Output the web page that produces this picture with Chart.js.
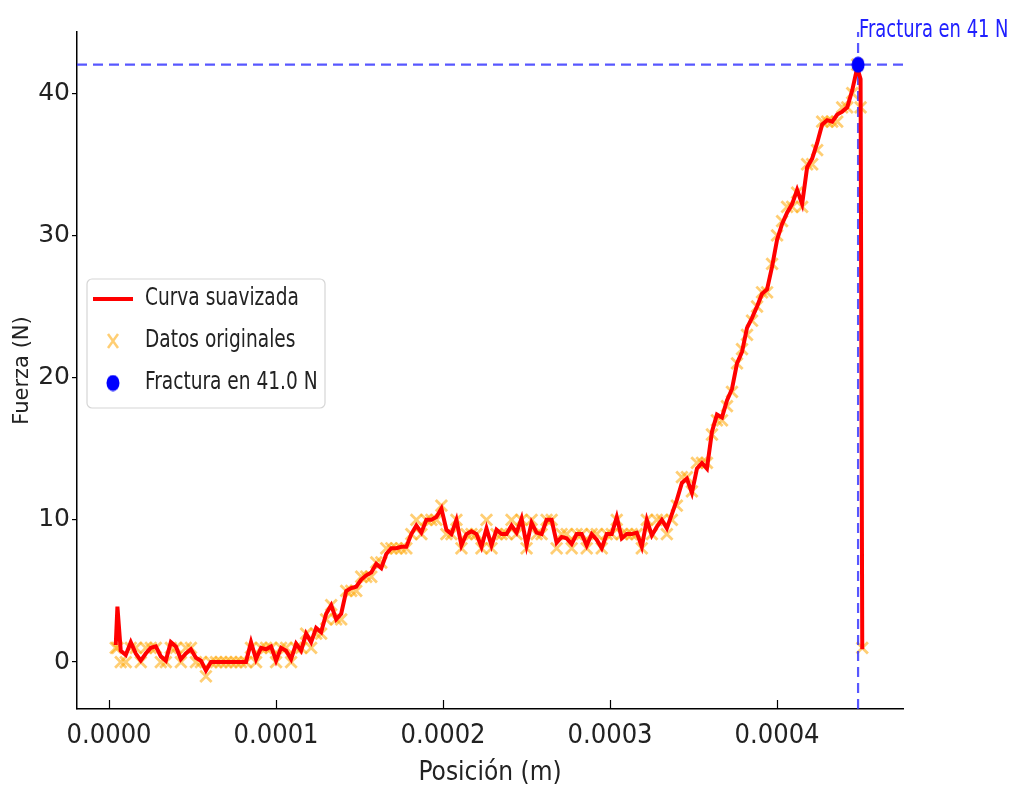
<!DOCTYPE html>
<html lang="es">
<head>
<meta charset="utf-8">
<script src="https://cdn.jsdelivr.net/npm/chart.js@4.4.1/dist/chart.umd.min.js"></script>
<style>
  html, body { margin: 0; padding: 0; background: #fff; overflow: hidden; }
  #grafico { display: block; }
</style>
</head>
<body>
<canvas id="grafico" width="1011" height="789"></canvas>
<script>
// posiciones de medición (en micrómetros)
const posicionUm = [
  4, 5, 7, 10, 13, 16, 19, 22, 25, 28,
  31, 34, 37, 40, 43, 46, 49, 52, 55, 58,
  61, 64, 67, 70, 73, 76, 79, 82, 85, 88,
  91, 94, 97, 100, 103, 106, 109, 112, 115, 118,
  121, 124, 127, 130, 133, 136, 139, 142, 145, 148,
  151, 154, 157, 160, 163, 166, 169, 172, 175, 178,
  181, 184, 187, 190, 193, 196, 199, 202, 205, 208,
  211, 214, 217, 220, 223, 226, 229, 232, 235, 238,
  241, 244, 247, 250, 253, 256, 259, 262, 265, 268,
  271, 274, 277, 280, 283, 286, 289, 292, 295, 298,
  301, 304, 307, 310, 313, 316, 319, 322, 325, 328,
  331, 334, 337, 340, 343, 346, 349, 352, 355, 358,
  361, 364, 367, 370, 373, 376, 379, 382, 385, 388,
  391, 394, 397, 400, 403, 406, 409, 412, 415, 418,
  421, 424, 427, 430, 433, 436, 439, 442, 445, 448,
  450, 451
];

// curva suavizada (N)
const fuerzaSuavizada = [
  1.2, 3.9, 0.8, 0.5, 1.4, 0.6, 0.1, 0.6, 1.0, 1.1,
  0.4, 0.1, 1.4, 1.1, 0.2, 0.6, 0.9, 0.3, 0.1, -0.6,
  0.0, 0.0, 0.0, 0.0, 0.0, 0.0, 0.0, 0.0, 1.4, 0.2,
  1.0, 0.9, 1.1, 0.1, 1.0, 0.8, 0.2, 1.3, 0.8, 2.0,
  1.4, 2.4, 2.1, 3.4, 4.0, 3.0, 3.4, 5.0, 5.2, 5.3,
  5.8, 6.1, 6.3, 6.9, 6.6, 7.6, 8.0, 8.0, 8.1, 8.1,
  9.0, 9.6, 9.1, 10.0, 10.0, 10.2, 10.8, 9.3, 9.0, 10.0,
  8.2, 9.0, 9.2, 9.0, 8.1, 9.4, 8.2, 9.3, 9.0, 9.0,
  9.6, 9.1, 10.1, 8.2, 9.8, 9.1, 9.0, 10.0, 10.0, 8.4,
  8.8, 8.7, 8.3, 9.0, 9.0, 8.2, 9.0, 8.6, 8.0, 9.0,
  9.0, 10.2, 8.7, 9.0, 9.0, 9.1, 8.1, 10.0, 8.9, 9.5,
  10.0, 9.4, 10.4, 11.4, 12.6, 12.9, 11.9, 13.6, 14.0, 13.6,
  16.2, 17.4, 17.2, 18.4, 19.2, 21.0, 21.8, 23.5, 24.2, 25.0,
  25.9, 26.2, 27.8, 29.7, 30.8, 31.6, 32.2, 33.2, 32.2, 34.8,
  35.4, 36.5, 37.8, 38.1, 38.0, 38.5, 38.7, 39.0, 40.2, 41.8,
  41.0, 0.9
];

// datos originales (N)
const fuerzaOriginal = [
  1, 1, 0, 0, 1, 1, 0, 1, 1, 1,
  0, 0, 1, 1, 0, 1, 1, 0, 0, -1,
  0, 0, 0, 0, 0, 0, 0, 0, 1, 0,
  1, 1, 1, 0, 1, 1, 0, 1, 1, 2,
  1, 2, 2, 3, 4, 3, 3, 5, 5, 5,
  6, 6, 6, 7, 7, 8, 8, 8, 8, 8,
  9, 10, 9, 10, 10, 10, 11, 9, 9, 10,
  8, 9, 9, 9, 8, 10, 8, 9, 9, 9,
  10, 9, 10, 8, 10, 9, 9, 10, 10, 8,
  9, 9, 8, 9, 9, 8, 9, 9, 8, 9,
  9, 10, 9, 9, 9, 9, 8, 10, 9, 10,
  10, 9, 10, 11, 13, 13, 12, 14, 14, 14,
  16, 17, 17, 18, 19, 21, 22, 23, 24, 25,
  26, 26, 28, 30, 31, 32, 32, 33, 32, 35,
  35, 36, 38, 38, 38, 38, 39, 39, 40, 42,
  39, 1
];

// punto de fractura
const fracturaX = 0.0004485;
const fracturaY = 42;

// ejes
const ticksX = [0, 0.0001, 0.0002, 0.0003, 0.0004];
const ticksY = [0, 10, 20, 30, 40];
const X_MIN = -0.0000192, X_MAX = 0.0004754;
const Y_MIN = -3.3, Y_MAX = 44.3;

const condensada = "'Liberation Sans Narrow', 'DejaVu Sans Condensed', 'Noto Sans', sans-serif";
const normal = "'DejaVu Sans', sans-serif";

const aMetros = um => um * 1e-6;
const serieSuave = posicionUm.map((p, i) => ({ x: aMetros(p), y: fuerzaSuavizada[i] }));
const serieOriginal = posicionUm.map((p, i) => ({ x: aMetros(p), y: fuerzaOriginal[i] }));

const azulLinea = 'rgba(45, 45, 255, 0.8)';

// punto azul algo ovalado, como en la imagen
const puntoAzul = document.createElement('canvas');
puntoAzul.width = 14; puntoAzul.height = 17;
{
  const c = puntoAzul.getContext('2d');
  c.fillStyle = 'blue';
  c.beginPath();
  c.ellipse(7, 8.5, 6.5, 8, 0, 0, Math.PI * 2);
  c.fill();
}

// texto estrecho (escala horizontal)
function textoEstrecho(ctx, txt, x, y, factor) {
  ctx.save();
  ctx.translate(x, y);
  ctx.scale(factor, 1);
  ctx.fillText(txt, 0, 0);
  ctx.restore();
}

// leyenda, texto de fractura y marcas del eje x hacia dentro
const extrasPlugin = {
  id: 'extras',
  afterDraw(chart) {
    const ctx = chart.ctx;
    const area = chart.chartArea;
    const sx = chart.scales.x;

    // marcas del eje x (hacia dentro)
    ctx.save();
    ctx.strokeStyle = '#000';
    ctx.lineWidth = 1.2;
    ticksX.forEach(v => {
      const px = Math.round(sx.getPixelForValue(v)) + 0.5;
      ctx.beginPath();
      ctx.moveTo(px, area.bottom);
      ctx.lineTo(px, area.bottom - 9);
      ctx.stroke();
    });
    ctx.restore();

    // texto de la fractura
    ctx.save();
    ctx.font = "24px " + condensada;
    ctx.fillStyle = '#2020ff';
    ctx.textBaseline = 'alphabetic';
    textoEstrecho(ctx, 'Fractura en 41 N', sx.getPixelForValue(fracturaX) + 1, area.top + 5, 0.83);
    ctx.restore();

    // leyenda
    const x0 = area.left + 10, y0 = area.top + 247, w = 238, h = 129;
    ctx.save();
    ctx.beginPath();
    ctx.roundRect(x0, y0, w, h, 5);
    ctx.fillStyle = 'rgba(255,255,255,0.8)';
    ctx.fill();
    ctx.strokeStyle = '#d6d6d6';
    ctx.lineWidth = 1.2;
    ctx.stroke();

    const filas = [y0 + 20, y0 + 62, y0 + 104];
    ctx.strokeStyle = 'red';
    ctx.lineWidth = 4;
    ctx.beginPath();
    ctx.moveTo(x0 + 6, filas[0]);
    ctx.lineTo(x0 + 46, filas[0]);
    ctx.stroke();
    ctx.strokeStyle = 'rgba(255,165,0,0.55)';
    ctx.lineWidth = 2.5;
    ctx.beginPath();
    ctx.moveTo(x0 + 21, filas[1] - 7); ctx.lineTo(x0 + 31, filas[1] + 7);
    ctx.moveTo(x0 + 31, filas[1] - 7); ctx.lineTo(x0 + 21, filas[1] + 7);
    ctx.stroke();
    ctx.drawImage(puntoAzul, x0 + 19, filas[2] - 8.5);

    ctx.fillStyle = '#222';
    ctx.font = "24px " + condensada;
    ctx.textBaseline = 'middle';
    textoEstrecho(ctx, 'Curva suavizada', x0 + 58, filas[0], 0.86);
    textoEstrecho(ctx, 'Datos originales', x0 + 58, filas[1], 0.86);
    textoEstrecho(ctx, 'Fractura en 41.0 N', x0 + 58, filas[2], 0.86);
    ctx.restore();
  }
};

new Chart(document.getElementById('grafico'), {
  type: 'line',
  data: {
    datasets: [
      {
        label: 'Fractura en 41.0 N',
        data: [{ x: fracturaX, y: fracturaY }],
        showLine: false,
        pointStyle: puntoAzul,
        pointRadius: 8,
        order: 0
      },
      {
        label: 'Curva suavizada',
        data: serieSuave,
        borderColor: 'red',
        borderWidth: 4,
        pointRadius: 0,
        tension: 0,
        order: 1
      },
      {
        label: 'horizontal',
        data: [{ x: X_MIN, y: fracturaY }, { x: X_MAX, y: fracturaY }],
        borderColor: azulLinea,
        borderWidth: 2.2,
        borderDash: [10, 6],
        pointRadius: 0,
        order: 2
      },
      {
        label: 'vertical',
        data: [{ x: fracturaX, y: Y_MIN }, { x: fracturaX, y: Y_MAX }],
        borderColor: azulLinea,
        borderWidth: 2.2,
        borderDash: [10, 6],
        pointRadius: 0,
        order: 2
      },
      {
        label: 'Datos originales',
        data: serieOriginal,
        showLine: false,
        pointStyle: 'crossRot',
        pointRadius: 8,
        pointBorderWidth: 2.8,
        pointBorderColor: 'rgba(255,165,0,0.55)',
        order: 3
      }
    ]
  },
  options: {
    responsive: false,
    animation: false,
    devicePixelRatio: 1,
    events: [],
    layout: { padding: { top: 32, right: 108, left: 0, bottom: 0 } },
    plugins: {
      legend: { display: false },
      tooltip: { enabled: false }
    },
    scales: {
      x: {
        type: 'linear',
        min: X_MIN,
        max: X_MAX,
        afterBuildTicks: s => { s.ticks = ticksX.map(v => ({ value: v })); },
        afterFit: s => { s.height = 80; },
        ticks: {
          callback: v => v.toFixed(4),
          font: { family: condensada, size: 27 },
          color: '#222',
          padding: 11,
          maxRotation: 0,
          autoSkip: false
        },
        grid: { drawOnChartArea: false, drawTicks: false },
        border: { display: true, color: '#000', width: 1.5 },
        title: {
          display: true,
          text: 'Posición (m)',
          font: { family: condensada, size: 26 },
          color: '#222',
          padding: { top: 0, bottom: 0 }
        }
      },
      y: {
        min: Y_MIN,
        max: Y_MAX,
        afterBuildTicks: s => { s.ticks = ticksY.map(v => ({ value: v })); },
        afterFit: s => { s.width = 77; },
        ticks: {
          font: { family: normal, size: 25 },
          color: '#222',
          padding: 2
        },
        grid: { drawOnChartArea: false, drawTicks: true, tickLength: 5, color: '#000', lineWidth: 1.2 },
        border: { display: true, color: '#000', width: 1.5 },
        title: {
          display: true,
          text: 'Fuerza (N)',
          font: { family: normal, size: 21 },
          color: '#222',
          padding: { top: 10, bottom: 0 }
        }
      }
    }
  },
  plugins: [extrasPlugin]
});
</script>
</body>
</html>
